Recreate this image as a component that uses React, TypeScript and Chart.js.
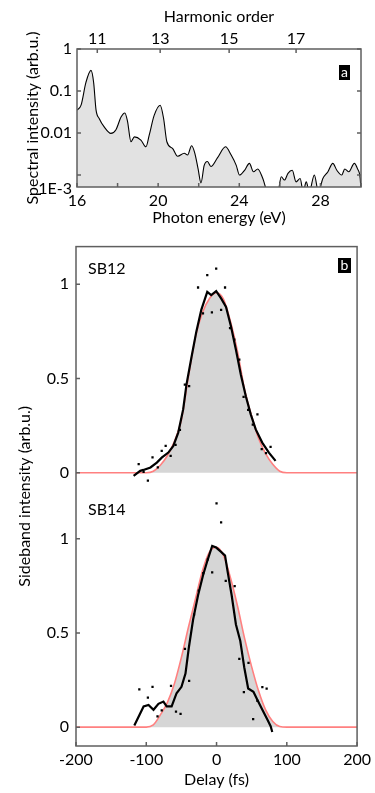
import React, { useEffect, useRef } from "react";
import { Chart, registerables } from "chart.js";

Chart.register(...registerables);

const FONT_FAMILY = "Lato, 'Open Sans', sans-serif";
const AXIS_COLOR = "#5f5f5f";

// ---------- Panel a: spectrum ----------
const photonEnergy = [
  16.0, 16.2, 16.44, 16.69, 16.82, 16.94, 17.1, 17.34, 17.67, 17.92,
  18.17, 18.36, 18.49, 18.66, 18.83, 19.15, 19.4, 19.56, 19.8, 20.1,
  20.27, 20.43, 20.71, 20.96, 21.29, 21.45, 21.65, 21.81, 21.97, 22.11,
  22.27, 22.43, 22.6, 22.93, 23.32, 23.6, 23.85, 24.01, 24.26, 24.5,
  24.7, 24.91, 25.16, 25.4, 25.65, 25.9, 26.07, 26.23, 26.4, 26.61,
  26.8, 27.0, 27.15, 27.3, 27.45, 27.7, 27.9, 28.12, 28.37, 28.61,
  28.81, 29.05, 29.2, 29.4, 29.67, 29.83, 29.96, 30.0,
];
const spectralIntensity = [
  0.035, 0.046, 0.16, 0.31, 0.16, 0.035, 0.022, 0.014, 0.0098, 0.012,
  0.024, 0.03, 0.019, 0.0062, 0.0081, 0.0068, 0.0047, 0.0089, 0.026, 0.046,
  0.022, 0.0062, 0.0043, 0.0028, 0.0033, 0.003, 0.005, 0.0033, 0.0014, 0.00065,
  0.0017, 0.0021, 0.0016, 0.0026, 0.0047, 0.003, 0.0017, 0.001, 0.0013, 0.0019,
  0.0012, 0.0014, 0.00083, 0.0004, 0.0004, 0.0004, 0.00091, 0.00076, 0.0011, 0.0013,
  0.00069, 0.00083, 0.0004, 0.00069, 0.0004, 0.001, 0.0004, 0.00083, 0.0012, 0.0019,
  0.0013, 0.001, 0.0014, 0.0012, 0.0019, 0.0014, 0.00083, 0.0004,
];
const energyTicks = [16, 18, 20, 22, 24, 26, 28, 30];
const energyTickLabels = ["16", "", "20", "", "24", "", "28", ""];
const harmonicOrders = ["11", "13", "15", "17"];
const harmonicEnergies = [17.0, 20.1, 23.5, 26.8];
const intensityTicks = [1, 0.1, 0.01, 0.001];
const intensityTickLabels = ["1", "0.1", "0.01", "1E-3"];

// ---------- Panel b: sidebands ----------
const fitDelay = [
  -200, -100, -90, -80, -70, -60, -50, -40, -30, -20, -10, 0,
  10, 20, 30, 40, 50, 60, 70, 80, 90, 100, 200,
];
const sb12Fit = [
  0, 0, 0.008, 0.04, 0.09, 0.165, 0.28, 0.51, 0.72, 0.85, 0.925, 0.955,
  0.92, 0.8, 0.64, 0.44, 0.3, 0.18, 0.1, 0.045, 0.008, 0, 0,
];
const sb14Fit = [
  0, 0, 0.012, 0.065, 0.13, 0.23, 0.37, 0.53, 0.68, 0.83, 0.93, 0.955,
  0.91, 0.79, 0.64, 0.47, 0.32, 0.19, 0.09, 0.03, 0.003, 0, 0,
];

const sb12LineDelay = [
  -118, -108.6, -104, -94, -85, -78, -68.6, -61.5, -54.5, -47.5, -42.8, -35.8,
  -28.7, -21.7, -13.2, -7.6, -0.5, 6.5, 13.5, 20.6, 27.6, 34.6, 41.7, 48.7,
  55.8, 65, 74.5, 84,
];
const sb12Line = [
  -0.016, 0.01, 0.015, 0.028, 0.054, 0.08, 0.107, 0.142, 0.213, 0.336, 0.468, 0.61,
  0.75, 0.864, 0.96, 0.943, 0.964, 0.925, 0.88, 0.776, 0.653, 0.52, 0.406, 0.31,
  0.23, 0.16, 0.107, 0.063,
];
const sb14LineDelay = [
  -117, -103.8, -96.8, -89.7, -82.7, -75.6, -71, -63.9, -56.9, -49.9, -44.2, -39.5,
  -33.4, -26.3, -19.3, -12.3, -6.2, -0.5, 6.5, 12.1, 15.9, 21.5, 27.6, 33.8,
  39.4, 45, 52.5, 58.2, 65.2, 72.3, 77, 79.3,
];
const sb14Line = [
  0.009, 0.11, 0.118, 0.092, 0.124, 0.136, 0.11, 0.11, 0.18, 0.214, 0.284, 0.42,
  0.57, 0.7, 0.805, 0.892, 0.962, 0.953, 0.93, 0.91, 0.823, 0.7, 0.545, 0.457,
  0.318, 0.205, 0.188, 0.144, 0.092, 0.04, 0.005, -0.026,
];

const sb12DotDelay = [
  -110.8, -103.8, -97.7, -91.1, -83.6, -78, -72.4, -65.3, -58.3, -52.1, -45.1, -39,
  -26.3, -19.3, -13.2, -6.6, -0.5, 6.5, 12.1, 19.2, 25.3, 32.4, 38.5, 45,
  51.6, 58.2, 64.3, 70.4, 76.9,
];
const sb12Dots = [
  0.046, 0.005, -0.042, 0.081, 0.028, 0.116, 0.142, 0.09, 0.148, 0.227, 0.468, 0.459,
  0.983, 0.846, 1.049, 0.851, 1.083, 0.864, 0.983, 0.767, 0.706, 0.6, 0.403, 0.334,
  0.255, 0.31, 0.125, 0.104, 0.137,
];
const sb14DotDelay = [
  -109.9, -97.7, -91.1, -84, -78, -64.8, -57.7, -51.2, -45, -39, -32, -25.4,
  -18.9, -12.4, -6.2, 0, 6.5, 13.1, 25.8, 32.4, 38.9, 45.5, 52.1, 58.2,
  65.2, 71.3,
];
const sb14Dots = [
  0.2, 0.157, 0.214, 0.057, 0.089, 0.219, 0.083, 0.071, 0.416, 0.245, 0.597, 0.725,
  0.817, 0.89, 0.821, 1.188, 1.087, 0.776, 0.748, 0.362, 0.186, 0.341, 0.042, 0.139,
  0.212, 0.205,
];
const delayTicks = [-200, -100, 0, 100, 200];
const delayTickLabels = ["-200", "-100", "0", "100", "200"];
const sidebandTicks = [0, 0.5, 1];
const sidebandTickLabels = ["0", "0.5", "1"];

const font16 = { family: FONT_FAMILY, size: 16, weight: "normal" as const };

const zip = (xs: number[], ys: number[]) => xs.map((x, i) => ({ x, y: ys[i] }));

const frameTicks = {
  id: "frameTicks",
  afterDatasetsDraw(chart: any, _args: any, opts: any) {
    const { ctx, chartArea: a } = chart;
    const len = opts.length ?? 4;
    ctx.save();
    ctx.strokeStyle = opts.color;
    ctx.lineWidth = opts.width;
    ctx.beginPath();
    for (const id of Object.keys(chart.scales)) {
      const s = chart.scales[id];
      for (const t of s.ticks) {
        const p = s.getPixelForValue(t.value);
        if (s.position === "bottom") {
          ctx.moveTo(p, a.bottom);
          ctx.lineTo(p, a.bottom - len);
        } else if (s.position === "top") {
          ctx.moveTo(p, a.top);
          ctx.lineTo(p, a.top + len);
        } else if (s.position === "left") {
          ctx.moveTo(a.left, p);
          ctx.lineTo(a.left + len, p);
          if (opts.mirrorY) {
            ctx.moveTo(a.right, p);
            ctx.lineTo(a.right - len, p);
          }
        }
      }
    }
    ctx.stroke();
    ctx.strokeRect(a.left, a.top, a.right - a.left, a.bottom - a.top);
    ctx.restore();
  },
};

const hiddenGrid = { display: false, drawTicks: false };

function configA(): any {
  return {
    type: "line",
    data: {
      datasets: [
        {
          data: zip(photonEnergy, spectralIntensity),
          borderColor: "#000",
          borderWidth: 1.1,
          backgroundColor: "#e2e2e2",
          fill: "start",
          pointRadius: 0,
          cubicInterpolationMode: "monotone",
        },
      ],
    },
    plugins: [frameTicks],
    options: {
      animation: false,
      responsive: false,
      maintainAspectRatio: false,
      layout: { padding: { left: 0, right: 14, top: 0, bottom: 0 } },
      plugins: {
        legend: { display: false },
        tooltip: { enabled: false },
        frameTicks: { color: AXIS_COLOR, width: 1.5, length: 4, mirrorY: true },
      },
      scales: {
        x: {
          type: "linear",
          position: "bottom",
          min: 16,
          max: 30,
          afterBuildTicks: (s: any) => {
            s.ticks = energyTicks.map((v) => ({ value: v }));
          },
          ticks: {
            autoSkip: false,
            maxRotation: 0,
            padding: 4,
            color: "#000",
            font: font16,
            callback: (_v: any, i: number) => energyTickLabels[i],
          },
          grid: hiddenGrid,
          border: { display: false },
          title: {
            display: true,
            text: "Photon energy (eV)",
            color: "#000",
            font: font16,
            padding: { top: 0, bottom: 3 },
          },
          afterFit: (s: any) => {
            s.height = 43;
          },
        },
        x2: {
          type: "linear",
          position: "top",
          min: 16,
          max: 30,
          afterBuildTicks: (s: any) => {
            s.ticks = harmonicEnergies.map((v) => ({ value: v }));
          },
          ticks: {
            autoSkip: false,
            maxRotation: 0,
            padding: 1,
            color: "#000",
            font: font16,
            callback: (_v: any, i: number) => harmonicOrders[i],
          },
          grid: hiddenGrid,
          border: { display: false },
          title: {
            display: true,
            text: "Harmonic order",
            color: "#000",
            font: font16,
            padding: { top: 7, bottom: 0 },
          },
          afterFit: (s: any) => {
            s.height = 49;
          },
        },
        y: {
          type: "logarithmic",
          position: "left",
          min: 5.2e-4,
          max: 1,
          afterBuildTicks: (s: any) => {
            s.ticks = intensityTicks.map((v) => ({ value: v }));
          },
          ticks: {
            autoSkip: false,
            padding: 5,
            color: "#000",
            font: (c: any) => ({
              ...font16,
              lineHeight: c.tick && c.tick.value === 0.001 ? 1.75 : 1.2,
            }),
            callback: (_v: any, i: number) =>
              intensityTicks[i] === 0.001 ? ["", intensityTickLabels[i]] : intensityTickLabels[i],
          },
          grid: hiddenGrid,
          border: { display: false },
          title: {
            display: true,
            text: "Spectral intensity (arb.u.)",
            color: "#000",
            font: font16,
            padding: { top: 23, bottom: 0 },
          },
          afterFit: (s: any) => {
            s.width = 77;
          },
        },
      },
    },
  };
}

function sidebandAxis(weight: number, stackWeight: number, max: number): any {
  return {
    type: "linear",
    position: "left",
    stack: "sb",
    stackWeight,
    weight,
    min: -0.1,
    max,
    afterBuildTicks: (s: any) => {
      s.ticks = sidebandTicks.map((v) => ({ value: v }));
    },
    ticks: {
      autoSkip: false,
      padding: 7,
      color: "#000",
      font: font16,
      callback: (_v: any, i: number) => sidebandTickLabels[i],
    },
    grid: hiddenGrid,
    border: { display: false },
    afterFit: (s: any) => {
      s.width = 41.4;
    },
  };
}

function sidebandDatasets(axis: string, fit: number[], lineX: number[], lineY: number[], dotX: number[], dotY: number[]) {
  return [
    {
      data: zip(dotX, dotY),
      yAxisID: axis,
      showLine: false,
      pointRadius: 1.6,
      pointStyle: "rect",
      pointBackgroundColor: "#000",
      pointBorderWidth: 0,
      order: 1,
    },
    {
      data: zip(lineX, lineY),
      yAxisID: axis,
      borderColor: "#000",
      borderWidth: 2.2,
      pointRadius: 0,
      fill: false,
      order: 2,
    },
    {
      data: zip(fitDelay, fit),
      yAxisID: axis,
      borderColor: "#ff8080",
      borderWidth: 1.6,
      backgroundColor: "#d6d6d6",
      fill: "origin",
      pointRadius: 0,
      cubicInterpolationMode: "monotone",
      order: 3,
    },
  ];
}

function configB(): any {
  return {
    type: "line",
    data: {
      datasets: [
        ...sidebandDatasets("y12", sb12Fit, sb12LineDelay, sb12Line, sb12DotDelay, sb12Dots),
        ...sidebandDatasets("y14", sb14Fit, sb14LineDelay, sb14Line, sb14DotDelay, sb14Dots),
      ],
    },
    plugins: [frameTicks],
    options: {
      animation: false,
      responsive: false,
      maintainAspectRatio: false,
      layout: { padding: { left: 0, right: 14, top: 15, bottom: 0 } },
      plugins: {
        legend: { display: false },
        tooltip: { enabled: false },
        title: {
          display: true,
          text: "Sideband intensity (arb.u.)",
          position: "left",
          fullSize: false,
          color: "#000",
          font: font16,
          padding: { top: 15.4, bottom: 0 },
        },
        frameTicks: { color: AXIS_COLOR, width: 1.5, length: 4, mirrorY: false },
      },
      scales: {
        x: {
          type: "linear",
          position: "bottom",
          min: -200,
          max: 200,
          afterBuildTicks: (s: any) => {
            s.ticks = delayTicks.map((v) => ({ value: v }));
          },
          ticks: {
            autoSkip: false,
            maxRotation: 0,
            padding: 4,
            color: "#000",
            font: font16,
            callback: (_v: any, i: number) => delayTickLabels[i],
          },
          grid: hiddenGrid,
          border: { display: false },
          title: {
            display: true,
            text: "Delay (fs)",
            color: "#000",
            font: font16,
            padding: { top: 0, bottom: 4 },
          },
          afterFit: (s: any) => {
            s.height = 47;
          },
        },
        y14: sidebandAxis(1, 1.35, 1.25),
        y12: sidebandAxis(2, 1.3, 1.2),
      },
    },
  };
}

const tagStyle = (left: number, top: number, w: number): React.CSSProperties => ({
  position: "absolute",
  left,
  top,
  width: w,
  height: 15,
  background: "#000",
  color: "#fff",
  fontFamily: FONT_FAMILY,
  fontSize: 14,
  lineHeight: "14px",
  textAlign: "center",
});

const sbStyle = (top: number): React.CSSProperties => ({
  position: "absolute",
  left: 88,
  top,
  fontFamily: FONT_FAMILY,
  fontSize: 16,
  lineHeight: "19px",
  color: "#000",
});

export default function App() {
  const refA = useRef<HTMLCanvasElement>(null);
  const refB = useRef<HTMLCanvasElement>(null);

  useEffect(() => {
    const ca = new Chart(refA.current as HTMLCanvasElement, configA());
    const cb = new Chart(refB.current as HTMLCanvasElement, configB());
    return () => {
      ca.destroy();
      cb.destroy();
    };
  }, []);

  return (
    <div
      style={{
        position: "fixed",
        left: 0,
        top: 0,
        width: 375,
        height: 793,
        background: "#fff",
        overflow: "hidden",
      }}
    >
      <canvas
        ref={refA}
        width={375}
        height={230}
        style={{ position: "absolute", left: 0, top: 0, width: 375, height: 230 }}
      />
      <canvas
        ref={refB}
        width={375}
        height={563}
        style={{ position: "absolute", left: 0, top: 230, width: 375, height: 563 }}
      />
      <div style={tagStyle(339, 65, 11)}>a</div>
      <div style={tagStyle(338, 258, 13)}>b</div>
      <div style={sbStyle(258)}>SB12</div>
      <div style={sbStyle(499)}>SB14</div>
    </div>
  );
}
